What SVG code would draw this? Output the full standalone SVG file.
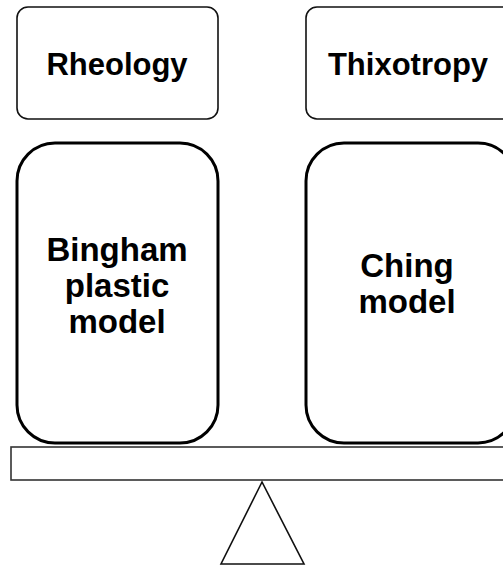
<svg xmlns="http://www.w3.org/2000/svg" width="503" height="565" viewBox="0 0 503 565">
<style>
.small{fill:#fff;stroke:#111;stroke-width:1.6}
.big{fill:#fff;stroke:#000;stroke-width:3}
.t{font-family:"Liberation Sans",Arial,sans-serif;font-weight:bold;fill:#000;text-anchor:middle}
.beam{fill:#fff;stroke:#333;stroke-width:1.6}
</style>
<rect width="503" height="565" fill="#fff"/>
<g id="rheology"><rect class="small" x="17" y="7" width="201" height="112" rx="11"/><text class="t" x="117" y="75" font-size="31">Rheology</text></g>
<g id="thixotropy"><rect class="small" x="306" y="7" width="210" height="112" rx="11"/><text class="t" x="408" y="75" font-size="31">Thixotropy</text></g>
<g id="bingham"><rect class="big" x="17" y="143" width="201" height="300" rx="38"/><text class="t" font-size="33"><tspan x="117" y="261">Bingham</tspan><tspan x="117" y="297">plastic</tspan><tspan x="117" y="333">model</tspan></text></g>
<g id="ching"><rect class="big" x="306" y="143" width="210" height="300" rx="38"/><text class="t" font-size="33"><tspan x="407" y="277">Ching</tspan><tspan x="407" y="313">model</tspan></text></g>
<g id="beam"><rect class="beam" x="11" y="447" width="500" height="33"/></g>
<g id="fulcrum"><polygon points="262,482 221,564 304,564" fill="#fff" stroke="#111" stroke-width="1.6"/></g>
<g id="connectors"></g>
</svg>
